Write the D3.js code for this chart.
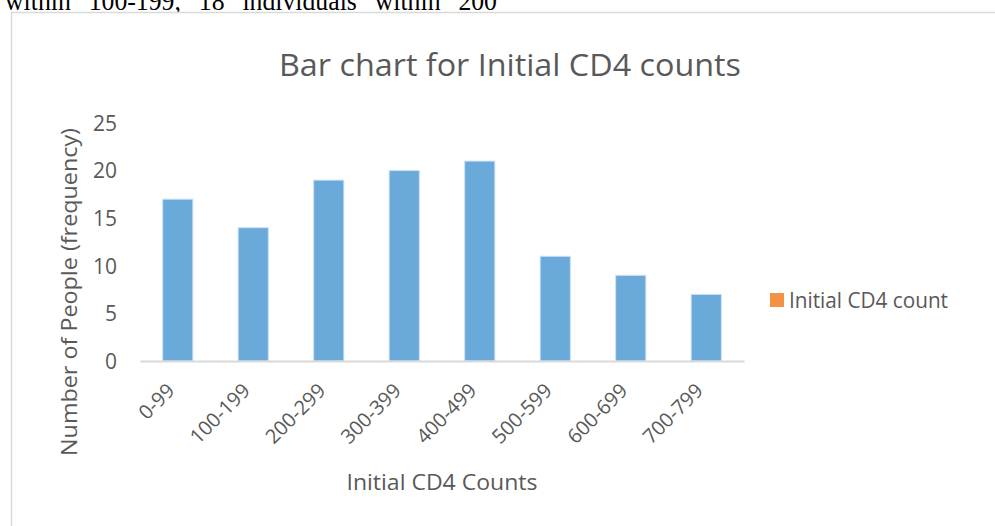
<!DOCTYPE html>
<html>
<head>
<meta charset="utf-8">
<script src="https://cdn.jsdelivr.net/npm/d3@7"></script>
<style>
  html, body { margin: 0; padding: 0; background: #fff; overflow: hidden; }
  svg { display: block; }
</style>
</head>
<body>
<script>
(function () {
    var width = 995;
    var height = 526;

    // data
    var categories = ["0-99", "100-199", "200-299", "300-399", "400-499", "500-599", "600-699", "700-799"];
    var counts = [17, 14, 19, 20, 21, 11, 9, 7];
    var yTicks = [0, 5, 10, 15, 20, 25];
    var seriesName = "Initial CD4 count";

    var textColor = "#595959";
    var font = "'Open Sans', sans-serif";

    var left = 140, right = 744, top = 123, bottom = 361;

    var svg = d3.select("body").append("svg")
        .attr("width", width)
        .attr("height", height);

    // fit a text element into a measured width
    function fit(sel, w) {
        sel.attr("textLength", w).attr("lengthAdjust", "spacingAndGlyphs");
        return sel;
    }

    // the bit of document text cut off above the chart
    fit(svg.append("text")
        .attr("x", 5)
        .attr("y", 10)
        .attr("font-family", "'Liberation Serif', 'Times New Roman', serif")
        .attr("font-size", 27)
        .attr("fill", "#000")
        .attr("word-spacing", 12)
        .text("within  100-199,  18  individuals  within  200"), 492);

    // chart frame
    svg.append("rect")
        .attr("x", 11.5)
        .attr("y", 12.5)
        .attr("width", 1000)
        .attr("height", 600)
        .attr("fill", "#fff")
        .attr("stroke", "#d9d9d9")
        .attr("stroke-width", 1.5);

    let xScale = d3.scaleBand()
        .domain(categories)
        .range([left, right])
        .paddingInner(0.6)
        .paddingOuter(0.3);

    let yScale = d3.scaleLinear()
        .domain([0, 25])
        .range([bottom, top]);

    // title
    fit(svg.append("text")
        .attr("x", 510)
        .attr("y", 76)
        .attr("text-anchor", "middle")
        .attr("font-family", font)
        .attr("font-size", 31)
        .attr("fill", textColor)
        .text("Bar chart for Initial CD4 counts"), 462);

    // y axis labels
    let yAxisGen = d3.axisLeft(yScale).tickValues(yTicks).tickSize(0).tickPadding(0);
    let yAxis = svg.append("g")
        .attr("transform", "translate(117,0)")
        .call(yAxisGen);
    yAxis.select(".domain").remove();
    yAxis.selectAll("text")
        .attr("font-family", font)
        .attr("font-size", 21)
        .attr("fill", textColor)
        .attr("dy", "0.35em");

    // bars
    svg.append("g").selectAll("rect")
        .data(counts)
        .join("rect")
        .attr("x", (d, i) => xScale(categories[i]))
        .attr("y", (d) => yScale(d))
        .attr("width", xScale.bandwidth())
        .attr("height", (d) => yScale(0) - yScale(d))
        .attr("fill", "#6aaadb")
        .attr("stroke", "#cde1f3")
        .attr("stroke-width", 1);

    // x axis line
    let xAxisGen = d3.axisBottom(xScale).tickSize(0).tickPadding(0);
    let xAxis = svg.append("g")
        .attr("transform", "translate(0," + bottom + ")")
        .call(xAxisGen);
    xAxis.select(".domain")
        .attr("stroke", "#d9d9d9")
        .attr("stroke-width", 2);
    xAxis.selectAll(".tick text")
        .attr("font-family", font)
        .attr("font-size", 20)
        .attr("fill", textColor)
        .attr("text-anchor", "end")
        .attr("y", 0)
        .attr("dy", 0)
        .attr("transform", "translate(-2,31) rotate(-45)");

    // axis titles
    fit(svg.append("text")
        .attr("x", 442)
        .attr("y", 490)
        .attr("text-anchor", "middle")
        .attr("font-family", font)
        .attr("font-size", 22)
        .attr("fill", textColor)
        .text("Initial CD4 Counts"), 191);

    fit(svg.append("text")
        .attr("transform", "translate(77,292) rotate(-90)")
        .attr("text-anchor", "middle")
        .attr("font-family", font)
        .attr("font-size", 22)
        .attr("fill", textColor)
        .text("Number of People (frequency)"), 328);

    // legend
    let legend = svg.append("g").attr("transform", "translate(770,293)");
    legend.append("rect")
        .attr("width", 14)
        .attr("height", 14)
        .attr("fill", "#f39242");
    fit(legend.append("text")
        .attr("x", 19)
        .attr("y", 15)
        .attr("font-family", font)
        .attr("font-size", 22)
        .attr("fill", textColor)
        .text(seriesName), 159);
})();
</script>
</body>
</html>
